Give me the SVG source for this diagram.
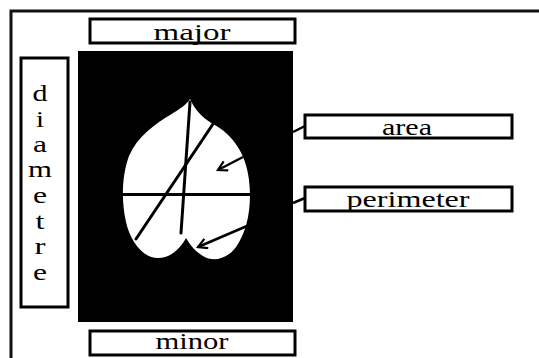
<svg xmlns="http://www.w3.org/2000/svg" width="539" height="358" viewBox="0 0 539 358">
  <style>
    .box { fill: #fff; stroke: #000; stroke-width: 3; }
    .lbl { font-family: "Liberation Serif", "Times New Roman", serif; font-size: 24px; fill: #000; text-anchor: middle; }
    .frame { fill: none; stroke: #111; stroke-width: 3; }
    .cut { stroke: #000; stroke-width: 3; stroke-linecap: round; fill: none; }
    .ptr { stroke: #000; stroke-width: 2.5; fill: none; }
  </style>
  <defs>
    <marker id="chevron" viewBox="0 0 12 12" refX="10" refY="6" markerWidth="12" markerHeight="12" markerUnits="userSpaceOnUse" orient="auto">
      <path d="M1,1 L10,6 L1,11" fill="none" stroke="#000" stroke-width="2.2"/>
    </marker>
  </defs>

  <rect width="539" height="358" fill="#fff"/>

  <!-- outer frame (open to the right and bottom) -->
  <path class="frame" d="M11,360 V11 H541"/>

  <!-- leaf image on black background -->
  <g id="leaf-image">
    <rect x="78" y="51" width="215" height="271" fill="#000"/>
    <path fill="#fff" d="M190,99
      C194,108 201,117 213,124
      C232,134 246,153 249,180
      C252,205 248,230 236,247
      C228,258 214,263 203,256
      C196,252 190,245 186,238
      C182,246 172,258 158,258
      C142,258 130,240 126,222
      C121,200 122,175 129,156
      C137,137 155,124 170,115
      C180,109 187,104 190,99 Z"/>
    <line class="cut" x1="190" y1="102" x2="181" y2="233"/>
    <line class="cut" x1="213" y1="124" x2="136" y2="239"/>
    <line class="cut" x1="123" y1="194.5" x2="250" y2="194.5"/>
  </g>

  <g id="major">
    <rect class="box" x="90" y="19" width="205" height="24"/>
    <text class="lbl" x="192" y="40" textLength="77" lengthAdjust="spacingAndGlyphs">major</text>
  </g>

  <g id="minor">
    <rect class="box" x="90" y="331" width="205" height="24"/>
    <text class="lbl" x="192" y="349" textLength="73" lengthAdjust="spacingAndGlyphs">minor</text>
  </g>

  <g id="diametre">
    <rect class="box" x="21" y="58" width="47" height="249"/>
    <text class="lbl" x="40" y="101" textLength="15" lengthAdjust="spacingAndGlyphs">d</text>
    <text class="lbl" x="40" y="127" textLength="8" lengthAdjust="spacingAndGlyphs">i</text>
    <text class="lbl" x="40" y="152" textLength="14" lengthAdjust="spacingAndGlyphs">a</text>
    <text class="lbl" x="40" y="177" textLength="24" lengthAdjust="spacingAndGlyphs">m</text>
    <text class="lbl" x="40" y="203" textLength="14" lengthAdjust="spacingAndGlyphs">e</text>
    <text class="lbl" x="40" y="229" textLength="9" lengthAdjust="spacingAndGlyphs">t</text>
    <text class="lbl" x="40" y="254" textLength="11" lengthAdjust="spacingAndGlyphs">r</text>
    <text class="lbl" x="40" y="280" textLength="14" lengthAdjust="spacingAndGlyphs">e</text>
  </g>

  <g id="area">
    <rect class="box" x="305" y="115" width="207" height="23"/>
    <text class="lbl" x="407" y="135" textLength="50" lengthAdjust="spacingAndGlyphs">area</text>
  </g>

  <g id="perimeter">
    <rect class="box" x="305" y="187" width="207" height="24"/>
    <text class="lbl" x="408" y="207" textLength="123" lengthAdjust="spacingAndGlyphs">perimeter</text>
  </g>

  <g id="connectors">
    <line class="ptr" x1="293" y1="132" x2="305" y2="126"/>
    <line class="ptr" x1="293" y1="203" x2="305" y2="198"/>
    <line class="ptr" x1="243" y1="157" x2="218" y2="170" marker-end="url(#chevron)"/>
    <line class="ptr" x1="247" y1="226" x2="198" y2="247" marker-end="url(#chevron)"/>
  </g>
</svg>
